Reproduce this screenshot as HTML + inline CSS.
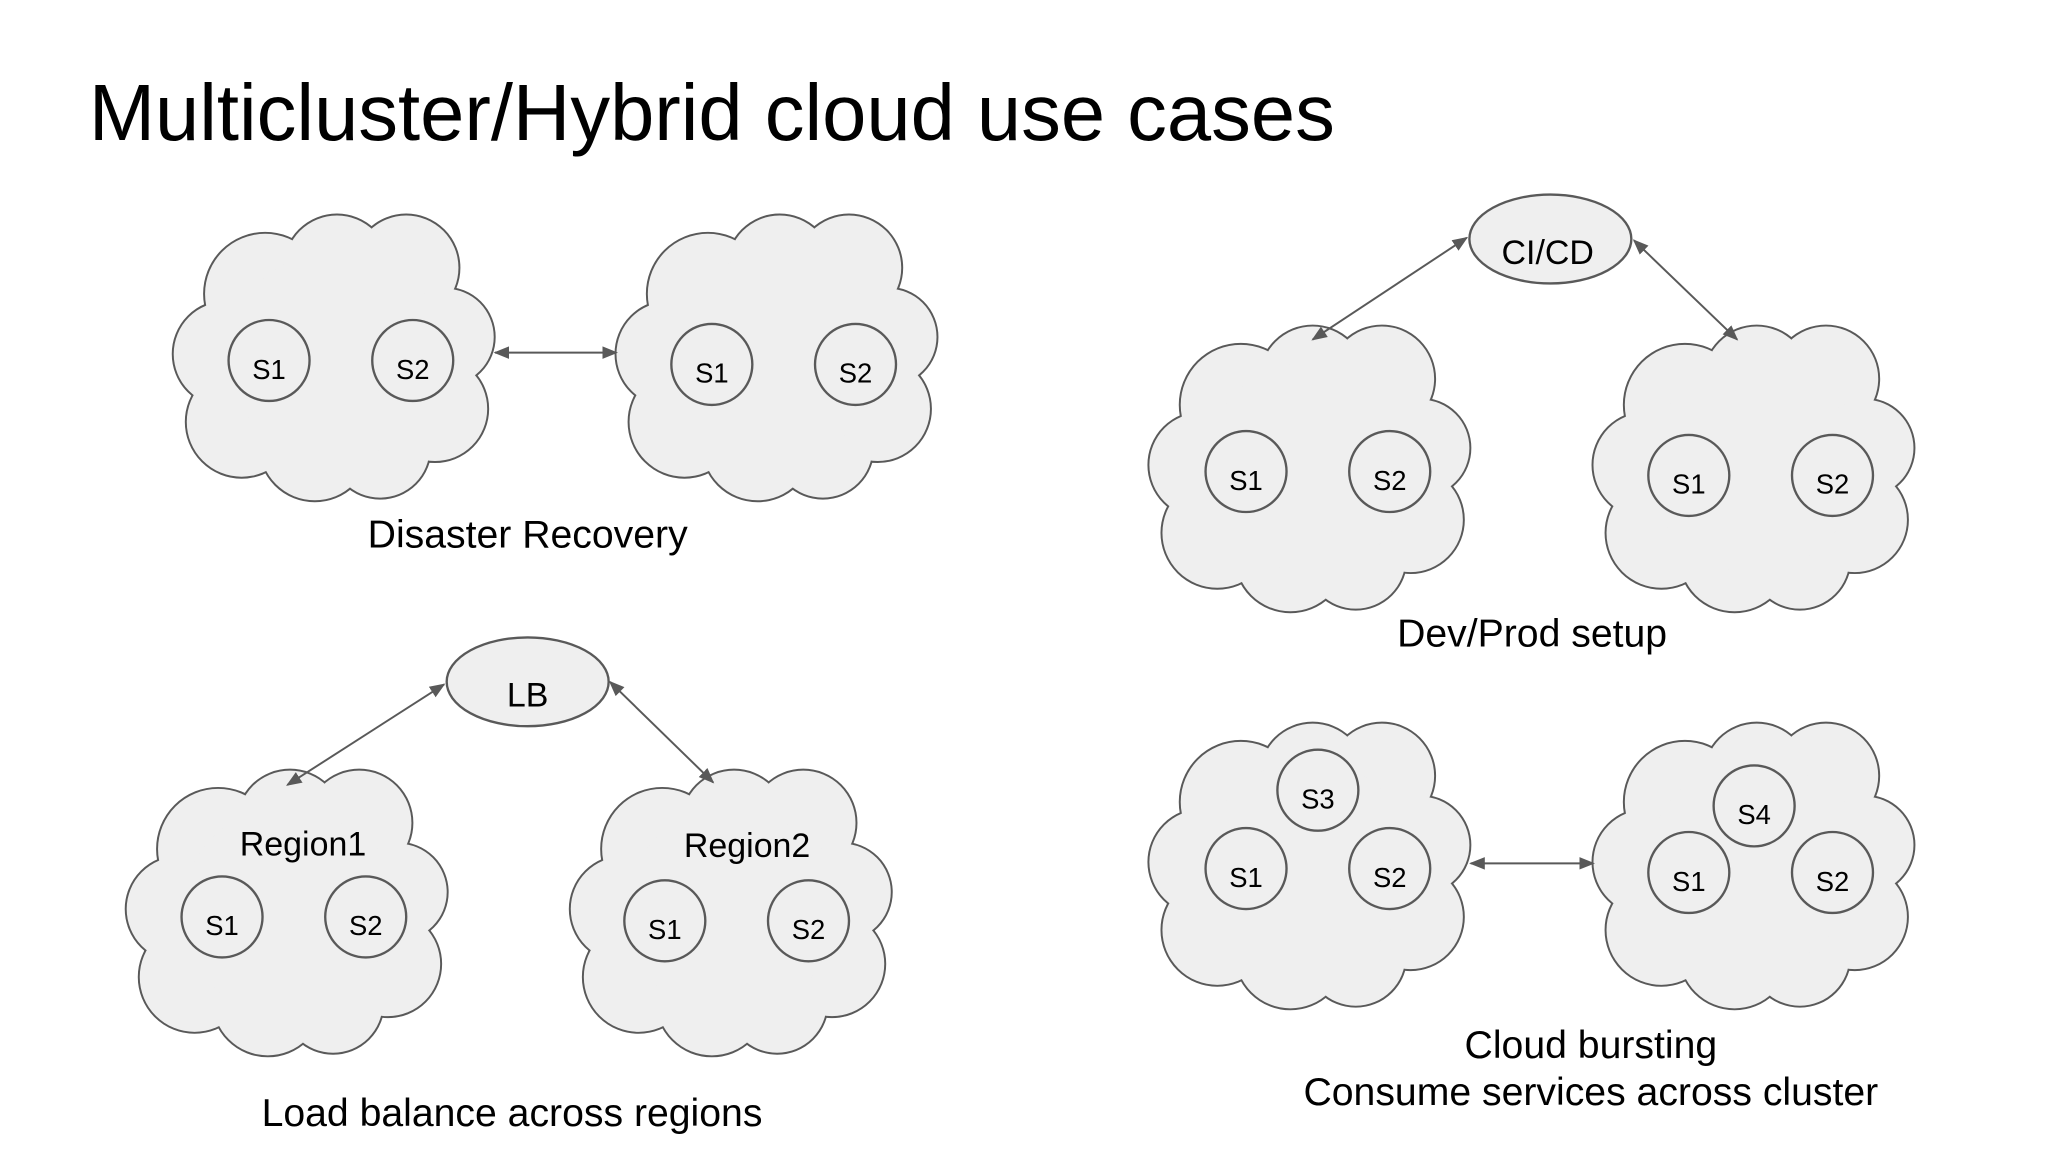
<!DOCTYPE html>
<html><head><meta charset="utf-8"><style>
html,body{margin:0;padding:0;background:#fff;}
svg{display:block;}
text{font-family:"Liberation Sans",Arial,sans-serif;fill:#000;}
</style></head><body>
<svg width="2048" height="1152" viewBox="0 0 1568 882" xmlns="http://www.w3.org/2000/svg">
<defs>
<g id="circs">
<circle cx="70" cy="62" r="46"/><circle cx="125" cy="42" r="40"/><circle cx="178" cy="42" r="40"/>
<circle cx="208" cy="95" r="37"/><circle cx="200" cy="150" r="40"/><circle cx="158" cy="180" r="38"/>
<circle cx="108" cy="178" r="42"/><circle cx="52" cy="160" r="42"/><circle cx="40" cy="108" r="40"/>
<circle cx="122" cy="110" r="80"/>
</g>
<g id="cloud">
<use href="#circs" fill="#efefef" stroke="#595959" stroke-width="3"/>
<use href="#circs" fill="#efefef" stroke="none"/>
</g>
<marker id="ah" viewBox="0 0 10 10" refX="9" refY="5" markerWidth="8" markerHeight="8" orient="auto-start-reverse">
<path d="M0,1 L10,5 L0,9 z" fill="#595959"/></marker>
</defs>

<text x="68" y="107" font-size="61" textLength="954" lengthAdjust="spacingAndGlyphs">Multicluster/Hybrid cloud use cases</text>

<use href="#cloud" x="133" y="163"/>
<use href="#cloud" x="472" y="163"/>
<use href="#cloud" x="880" y="248"/>
<use href="#cloud" x="1220" y="248"/>
<use href="#cloud" x="97" y="588"/>
<use href="#cloud" x="437" y="588"/>
<use href="#cloud" x="880" y="552"/>
<use href="#cloud" x="1220" y="552"/>

<g stroke="#595959" stroke-width="1.5" fill="none" marker-start="url(#ah)" marker-end="url(#ah)">
<line x1="379" y1="270" x2="472" y2="270"/>
<line x1="1005" y1="260" x2="1123" y2="182"/>
<line x1="1251" y1="184" x2="1330" y2="260"/>
<line x1="220" y1="601" x2="340" y2="524"/>
<line x1="467" y1="522" x2="546" y2="599"/>
<line x1="1126" y1="661" x2="1220" y2="661"/>
</g>

<g fill="#efefef" stroke="#595959" stroke-width="1.8">
<circle cx="206" cy="276" r="31"/><circle cx="316" cy="276" r="31"/>
<circle cx="545" cy="279" r="31"/><circle cx="655" cy="279" r="31"/>
<circle cx="954" cy="361" r="31"/><circle cx="1064" cy="361" r="31"/>
<circle cx="1293" cy="364" r="31"/><circle cx="1403" cy="364" r="31"/>
<circle cx="170" cy="702" r="31"/><circle cx="280" cy="702" r="31"/>
<circle cx="509" cy="705" r="31"/><circle cx="619" cy="705" r="31"/>
<circle cx="1009" cy="605" r="31"/><circle cx="954" cy="665" r="31"/><circle cx="1064" cy="665" r="31"/>
<circle cx="1343" cy="617" r="31"/><circle cx="1293" cy="668" r="31"/><circle cx="1403" cy="668" r="31"/>
<ellipse cx="1187" cy="183" rx="62" ry="34"/>
<ellipse cx="404" cy="522" rx="62" ry="34"/>
</g>

<g font-size="21" text-anchor="middle">
<text x="206" y="290">S1</text><text x="316" y="290">S2</text>
<text x="545" y="293">S1</text><text x="655" y="293">S2</text>
<text x="954" y="375">S1</text><text x="1064" y="375">S2</text>
<text x="1293" y="378">S1</text><text x="1403" y="378">S2</text>
<text x="170" y="716">S1</text><text x="280" y="716">S2</text>
<text x="509" y="719">S1</text><text x="619" y="719">S2</text>
<text x="1009" y="619">S3</text><text x="954" y="679">S1</text><text x="1064" y="679">S2</text>
<text x="1343" y="631">S4</text><text x="1293" y="682">S1</text><text x="1403" y="682">S2</text>
</g>
<g font-size="26" text-anchor="middle">
<text x="1185" y="202">CI/CD</text>
<text x="404" y="541">LB</text>
<text x="232" y="655">Region1</text>
<text x="572" y="656">Region2</text>
</g>
<g font-size="30" text-anchor="middle">
<text x="404" y="419">Disaster Recovery</text>
<text x="1173" y="495">Dev/Prod setup</text>
<text x="392" y="862">Load balance across regions</text>
<text x="1218" y="810">Cloud bursting</text>
<text x="1218" y="846">Consume services across cluster</text>
</g>
</svg>
</body></html>
